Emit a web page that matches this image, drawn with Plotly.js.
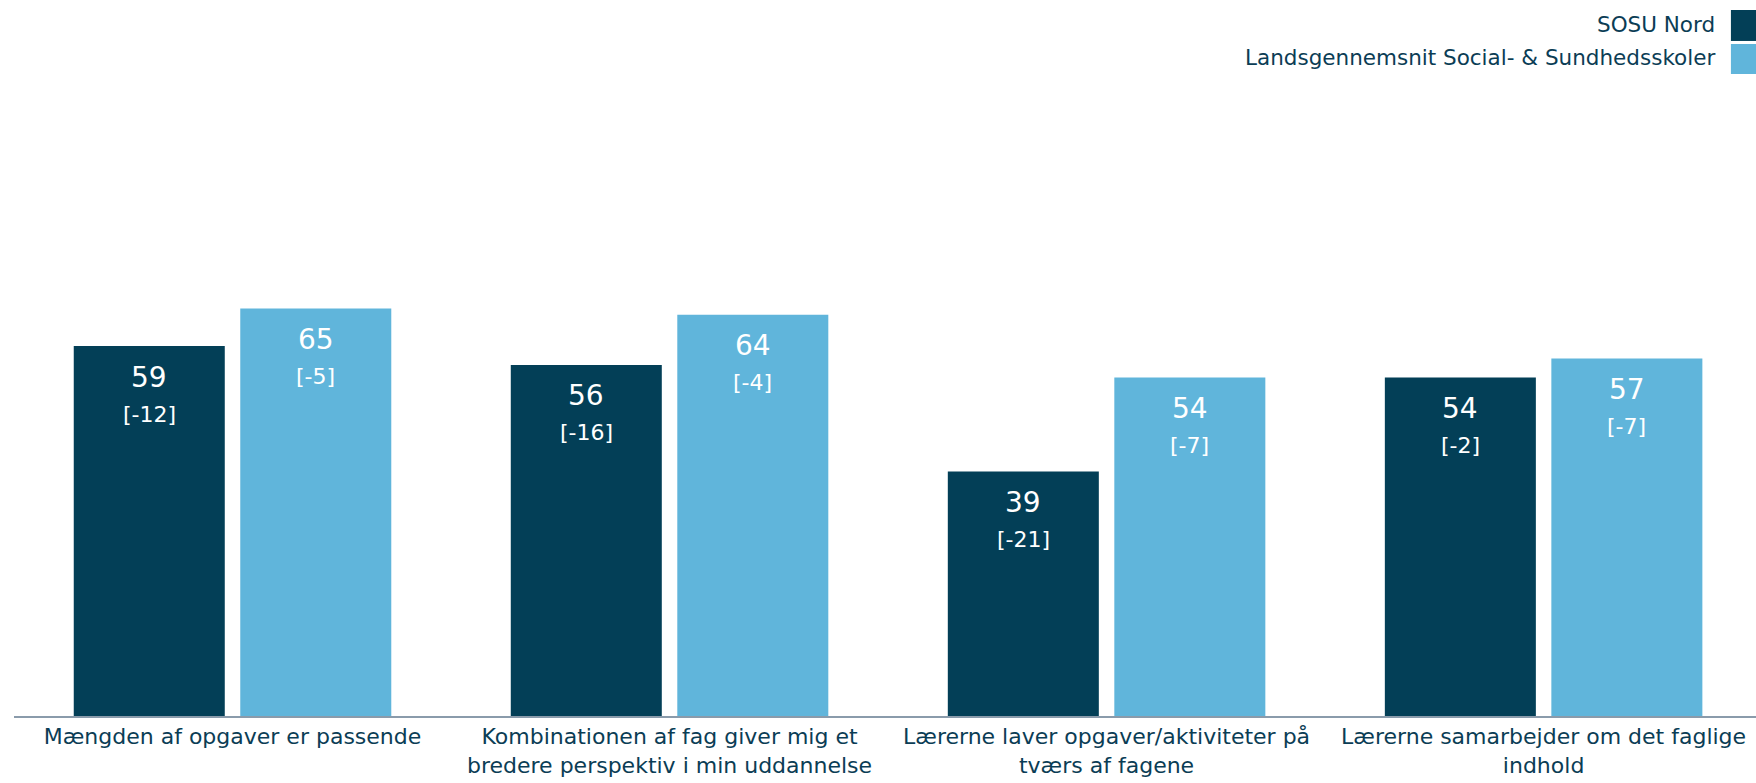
<!DOCTYPE html>
<html>
<head>
<meta charset="utf-8">
<script src="https://cdn.plot.ly/plotly-3.0.1.min.js"></script>
<style>
html,body{margin:0;padding:0;background:#fff;}
#chart{width:1756px;height:783px;}
</style>
</head>
<body>
<div id="chart"></div>
<script>
const categories = [
  "Mængden af opgaver er passende",
  "Kombinationen af fag giver mig et<br>bredere perspektiv i min uddannelse",
  "Lærerne laver opgaver/aktiviteter på<br>tværs af fagene",
  "Lærerne samarbejder om det faglige<br>indhold"
];
const seriesNames = ["SOSU Nord", "Landsgennemsnit Social- & Sundhedsskoler"];
const sosuValues = [59, 56, 39, 54];
const sosuDiffs = [-12, -16, -21, -2];
const landsValues = [65, 64, 54, 57];
const landsDiffs = [-5, -4, -7, -7];

const colors = ["#033f57", "#60b5db"];
const textColor = "#0b3d55";
const FONT = "DejaVu Sans, Verdana, sans-serif";

const bargap = 0.238, bargroupgap = 0.093;
const slot = (1 - bargap) / 2;
const offsets = [-slot / 2, slot / 2];

const traces = [
  {type: "bar", name: seriesNames[0], x: categories, y: sosuValues, marker: {color: colors[0]}, hoverinfo: "skip"},
  {type: "bar", name: seriesNames[1], x: categories, y: landsValues, marker: {color: colors[1]}, hoverinfo: "skip"}
];

const annotations = [];
[[sosuValues, sosuDiffs], [landsValues, landsDiffs]].forEach(([vals, diffs], t) => {
  vals.forEach((v, i) => {
    annotations.push({x: i + offsets[t], y: v, xref: "x", yref: "y", text: String(v),
      showarrow: false, yanchor: "middle", yshift: -31, font: {family: FONT, size: 28, color: "#ffffff"}});
    annotations.push({x: i + offsets[t], y: v, xref: "x", yref: "y", text: "[" + diffs[i] + "]",
      showarrow: false, yanchor: "middle", yshift: -68, font: {family: FONT, size: 22, color: "#ffffff"}});
  });
});

// custom legend (text left of swatch, right aligned)
const legendY = [[1.126, 1.0766], [1.0718, 1.0239]];
const shapes = [];
seriesNames.forEach((n, k) => {
  annotations.push({xref: "paper", yref: "paper", x: 0.9776, y: (legendY[k][0] + legendY[k][1]) / 2 + 0.002,
    xanchor: "right", yanchor: "middle", text: n, showarrow: false,
    font: {family: FONT, size: 21.5, color: textColor}});
  shapes.push({type: "rect", xref: "paper", yref: "paper", x0: 0.9856, x1: 1.0,
    y0: legendY[k][1], y1: legendY[k][0], fillcolor: colors[k], line: {width: 0}});
});

const layout = {
  width: 1756, height: 783,
  margin: {l: 14, r: 0, t: 89, b: 67, pad: 0},
  paper_bgcolor: "#ffffff", plot_bgcolor: "#ffffff",
  barmode: "group", bargap: bargap, bargroupgap: bargroupgap,
  showlegend: false,
  font: {family: FONT, size: 22, color: textColor},
  xaxis: {type: "category", range: [-0.5, 3.486], showline: true, linecolor: "#8a9bab", linewidth: 2,
    ticks: "", showgrid: false, zeroline: false, tickfont: {family: FONT, size: 22, color: textColor},
    fixedrange: true},
  yaxis: {range: [0, 100], showticklabels: false, showgrid: false, zeroline: false, showline: false,
    ticks: "", fixedrange: true},
  annotations: annotations,
  shapes: shapes
};

Plotly.newPlot("chart", traces, layout, {displayModeBar: false, staticPlot: true});
</script>
</body>
</html>
